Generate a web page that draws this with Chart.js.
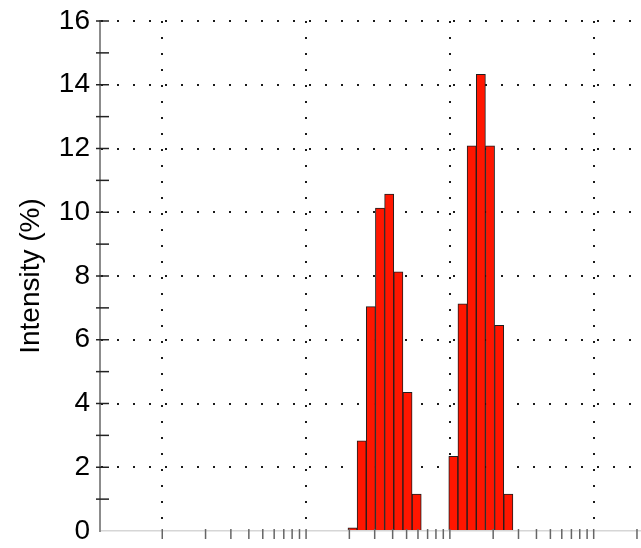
<!DOCTYPE html>
<html>
<head>
<meta charset="utf-8">
<script src="https://cdn.jsdelivr.net/npm/chart.js@4.4.1/dist/chart.umd.min.js"></script>
<style>
  html, body { margin: 0; padding: 0; background: #fff; }
  #wrap { width: 641px; height: 548px; }
</style>
</head>
<body>
<div id="wrap"><canvas id="sizeChart" width="641" height="548"></canvas></div>
<script>
// size classes (nm, log-spaced bins) and intensity (%)
const sizes = [21.04, 24.36, 28.21, 32.67, 37.84, 43.82, 50.75, 58.77,
               105.7, 122.4, 141.8, 164.2, 190.1, 220.2, 255.0];
const intensity = [0.1, 2.83, 7.04, 10.13, 10.57, 8.13, 4.35, 1.16,
                   2.34, 7.13, 12.08, 14.33, 12.08, 6.45, 1.16];

const decades = [1, 10, 100, 1000];
const sizeMin = 0.369;
const sizeMax = 2133;
const intensityMax = 16;

const FONT = "'Liberation Sans', Arial, sans-serif";

// small tick marks: across the y axis at every unit, below the x axis at 1..9 per decade
const tickMarks = {
    id: 'tickMarks',
    afterDraw(chart) {
        const { ctx, chartArea, scales: { x, y } } = chart;
        ctx.save();
        ctx.lineWidth = 1.5;
        ctx.strokeStyle = '#222';
        for (let v = 1; v <= intensityMax; v++) {
            const py = y.getPixelForValue(v);
            ctx.beginPath();
            ctx.moveTo(chartArea.left - 4, py);
            ctx.lineTo(chartArea.left + 9, py);
            ctx.stroke();
        }
        ctx.strokeStyle = '#666';
        decades.forEach(d => {
            for (let m = 1; m <= 9; m++) {
                const v = m * d;
                if (v > sizeMax) break;
                const px = x.getPixelForValue(v);
                ctx.beginPath();
                ctx.moveTo(px, chartArea.bottom - 2);
                ctx.lineTo(px, chartArea.bottom + 8);
                ctx.stroke();
            }
        });
        ctx.restore();
    }
};

new Chart(document.getElementById('sizeChart'), {
    type: 'bar',
    data: {
        datasets: [{
            data: sizes.map((s, i) => ({ x: s, y: intensity[i] })),
            backgroundColor: '#ff1600',
            borderColor: '#1e1e1e',
            borderWidth: 1,
            borderSkipped: 'bottom',
            barPercentage: 1,
            categoryPercentage: 1
        }]
    },
    options: {
        responsive: false,
        animation: false,
        devicePixelRatio: 1,
        layout: { padding: { top: 21, left: 0, right: 0, bottom: 0 } },
        plugins: {
            legend: { display: false },
            tooltip: { enabled: false }
        },
        scales: {
            x: {
                type: 'logarithmic',
                min: sizeMin,
                max: sizeMax,
                offset: false,
                afterBuildTicks: scale => {
                    scale.ticks = decades.map(v => ({ value: v }));
                },
                afterFit: scale => { scale.height = 17; },
                ticks: { display: false },
                grid: { offset: false, color: '#1a1a1a', lineWidth: 2, drawTicks: false },
                border: { color: '#d6d6d6', width: 1.5, dash: [2, 14] }
            },
            y: {
                min: 0,
                max: intensityMax,
                afterFit: scale => {
                    scale.width = 100;
                    // labels at 0 and 16 may overhang the plot edges
                    scale.paddingTop = 0;
                    scale.paddingBottom = 0;
                },
                ticks: {
                    stepSize: 1,
                    autoSkip: false,
                    padding: 10,
                    color: '#000',
                    font: { family: FONT, size: 28 },
                    callback: v => (v % 2 === 0 ? v : '')
                },
                grid: {
                    drawTicks: false,
                    lineWidth: 2,
                    color: c => (c.tick && c.tick.value > 0 && c.tick.value % 2 === 0) ? '#1a1a1a' : 'rgba(0,0,0,0)'
                },
                border: { color: '#8c8c8c', width: 2, dash: [2, 14] },
                title: {
                    display: true,
                    text: 'Intensity (%)',
                    color: '#000',
                    font: { family: FONT, size: 28 },
                    padding: { top: 14, bottom: 0 }
                }
            }
        }
    },
    plugins: [tickMarks]
});
</script>
</body>
</html>
